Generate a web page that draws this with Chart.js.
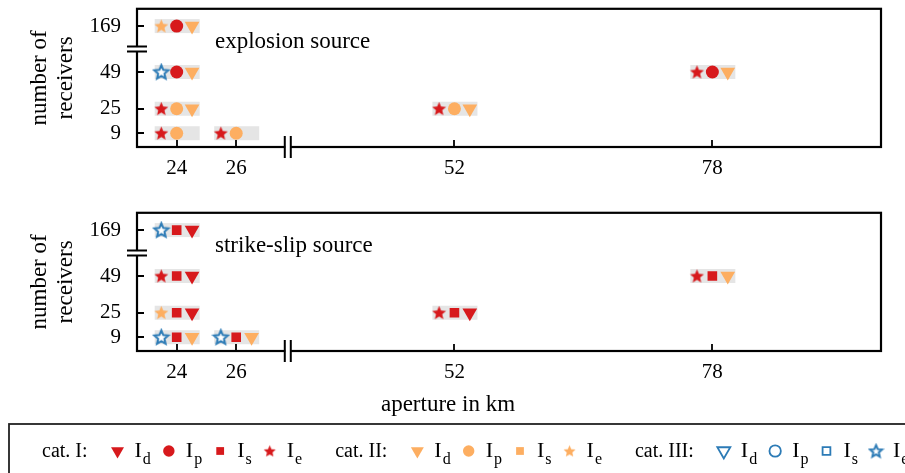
<!DOCTYPE html>
<html>
<head>
<meta charset="utf-8">
<script src="https://cdn.jsdelivr.net/npm/chart.js@4/dist/chart.umd.min.js"></script>
<style>
  body { margin: 0; background: #fff; width: 905px; height: 473px; overflow: hidden; position: relative; }
  canvas { position: absolute; left: 0; }
  #topChart { top: 0; }
  #bottomChart { top: 204px; }
</style>
</head>
<body>
<canvas id="topChart" width="905" height="200" style="width:905px;height:200px"></canvas>
<canvas id="bottomChart" width="905" height="269" style="width:905px;height:269px"></canvas>
<script>
// data
const apertures = [24, 24, 24, 24, 26, 52, 78];
const receivers = [169, 49, 25, 9, 9, 25, 49];
const xTicks = [24, 26, 52, 78];
const yTicks = [9, 25, 49, 169];

// category of each marker (I, II, III), null = no marker
const explosionIe = ['II', 'III', 'I', 'I', 'I', 'I', 'I'];
const explosionIp = ['I', 'I', 'II', 'II', 'II', 'II', 'I'];
const explosionId = ['II', 'II', 'II', null, null, 'II', 'II'];
const strikeIe = ['III', 'I', 'II', 'III', 'III', 'I', 'I'];
const strikeIs = ['I', 'I', 'I', 'I', 'I', 'I', 'I'];
const strikeId = ['I', 'I', 'I', 'II', 'II', 'I', 'II'];

const legendCats = ['I', 'II', 'III'];
const legendKeys = ['d', 'p', 's', 'e'];

const colors = { I: '#d7191c', II: '#fdae61', III: '#2c7bb6' };
const FONT = '"Liberation Serif", "Times New Roman", serif';

// broken axes: 24..26 is stretched, 169 sits above the break
function xPos(a) { return a <= 26 ? 24 + (a - 24) * 3 : a; }
function yPos(n) { return n > 49 ? 79 : n; }
const X_BREAK = 35.2;
const Y_BREAK = 64;
const SHIFT = 1.55; // marker spacing inside a group, in x units

function makeStar(color, open, outer, inner) {
  const c = document.createElement('canvas');
  const s = Math.ceil(outer * 2 + 4);
  c.width = s; c.height = s;
  const g = c.getContext('2d');
  g.beginPath();
  for (let i = 0; i < 10; i++) {
    const r = i % 2 ? inner : outer;
    const a = -Math.PI / 2 + i * Math.PI / 5;
    g.lineTo(s / 2 + r * Math.cos(a), s / 2 + r * Math.sin(a) + 0.5);
  }
  g.closePath();
  if (open) {
    g.fillStyle = '#fff'; g.fill();
    g.lineWidth = 2; g.strokeStyle = color; g.stroke();
  } else {
    g.fillStyle = color; g.fill();
  }
  return c;
}
const stars = {}, smallStars = {};
legendCats.forEach(c => {
  stars[c] = makeStar(colors[c], c === 'III', 7.3, 3.3);
  smallStars[c] = makeStar(colors[c], c === 'III', 6.3, 2.9);
});

function markerDataset(cats, style, shift, radius, rotation) {
  const pts = [], bg = [], bc = [], bw = [], ps = [];
  cats.forEach((cat, i) => {
    if (!cat) return;
    pts.push({ x: xPos(apertures[i]) + shift, y: yPos(receivers[i]) });
    bg.push(cat === 'III' ? '#fff' : colors[cat]);
    bc.push(colors[cat]);
    bw.push(cat === 'III' ? 1.8 : 0);
    ps.push(style === 'star' ? stars[cat] : style);
  });
  return {
    data: pts,
    pointStyle: ps,
    pointBackgroundColor: bg,
    pointBorderColor: bc,
    pointBorderWidth: bw,
    pointRadius: radius,
    pointRotation: rotation,
    showLine: false
  };
}

// grey boxes behind each group, then frame, inward ticks, breaks and texts
const framePlugin = {
  id: 'frame',
  beforeDatasetsDraw(chart) {
    const ctx = chart.ctx, sx = chart.scales.x, sy = chart.scales.y;
    ctx.save();
    ctx.fillStyle = '#e5e5e5';
    apertures.forEach((a, i) => {
      const px = sx.getPixelForValue(xPos(a));
      const py = sy.getPixelForValue(yPos(receivers[i]));
      ctx.fillRect(px - 22, py - 7, 45, 14);
    });
    ctx.restore();
  },
  afterDraw(chart, args, opts) {
    const ctx = chart.ctx, area = chart.chartArea;
    const sx = chart.scales.x, sy = chart.scales.y;
    ctx.save();
    ctx.strokeStyle = '#000';
    ctx.lineWidth = 2.2;
    ctx.strokeRect(area.left, area.top, area.right - area.left, area.bottom - area.top);

    ctx.lineWidth = 1.8;
    ctx.beginPath();
    xTicks.forEach(v => {
      const px = Math.round(sx.getPixelForValue(xPos(v)));
      ctx.moveTo(px, area.bottom); ctx.lineTo(px, area.bottom - 7);
    });
    yTicks.forEach(v => {
      const py = Math.round(sy.getPixelForValue(yPos(v)));
      ctx.moveTo(area.left, py); ctx.lineTo(area.left + 7, py);
    });
    ctx.stroke();

    // x break
    const bx = sx.getPixelForValue(X_BREAK);
    ctx.fillStyle = '#fff';
    ctx.fillRect(bx - 2.5, area.bottom - 2, 5, 4);
    ctx.lineWidth = 2;
    ctx.beginPath();
    ctx.moveTo(bx - 3, area.bottom - 11); ctx.lineTo(bx - 3, area.bottom + 11);
    ctx.moveTo(bx + 3, area.bottom - 11); ctx.lineTo(bx + 3, area.bottom + 11);
    ctx.stroke();
    // y break
    const by = sy.getPixelForValue(Y_BREAK);
    ctx.fillRect(area.left - 2, by - 2, 4, 4);
    ctx.beginPath();
    ctx.moveTo(area.left - 10, by - 2.5); ctx.lineTo(area.left + 10, by - 2.5);
    ctx.moveTo(area.left - 10, by + 2.5); ctx.lineTo(area.left + 10, by + 2.5);
    ctx.stroke();

    ctx.fillStyle = '#000';
    ctx.font = '23px ' + FONT;
    ctx.textBaseline = 'middle';
    ctx.textAlign = 'left';
    ctx.fillText(opts.label, 215, area.top + 33);

    // y title
    const cy = (area.top + area.bottom) / 2;
    ctx.save();
    ctx.translate(40, cy);
    ctx.rotate(-Math.PI / 2);
    ctx.textAlign = 'center';
    ctx.fillText('number of', 0, 0);
    ctx.fillText('receivers', 0, 26);
    ctx.restore();

    if (opts.xTitle) {
      ctx.textAlign = 'center';
      ctx.fillText(opts.xTitle, 448, area.bottom + 54);
    }
    if (opts.legend) drawLegend(ctx, area.bottom);
    ctx.restore();
  }
};

function drawLegend(ctx, axisY) {
  const top = axisY + 73;
  const cy = top + 26;
  ctx.save();
  ctx.strokeStyle = '#222';
  ctx.lineWidth = 1.8;
  ctx.strokeRect(9, top, 905, 80);
  ctx.fillStyle = '#000';
  ctx.textBaseline = 'alphabetic';
  ctx.textAlign = 'left';
  const base = cy + 7;
  let x = 42;
  legendCats.forEach(cat => {
    ctx.font = '20px ' + FONT;
    const t = 'cat. ' + cat + ':';
    ctx.fillText(t, x, base);
    x += ctx.measureText(t).width + 30;
    legendKeys.forEach(key => {
      const open = cat === 'III';
      ctx.fillStyle = open ? '#fff' : colors[cat];
      ctx.strokeStyle = colors[cat];
      const o = { radius: 6, rotation: 0, borderWidth: open ? 1.7 : 0, pointStyle: 'circle' };
      if (key === 'd') { o.pointStyle = 'triangle'; o.radius = 7.5; o.rotation = 180; }
      if (key === 's') { o.pointStyle = 'rect'; o.radius = 5.5; }
      if (key === 'e') { o.pointStyle = smallStars[cat]; }
      if (key === 'p') { o.radius = 5.7; }
      Chart.helpers.drawPoint(ctx, o, x, cy + 1);
      x += 17;
      ctx.fillStyle = '#000';
      ctx.font = '22px ' + FONT;
      ctx.fillText('I', x, base);
      x += ctx.measureText('I').width + 1;
      ctx.font = '16px ' + FONT;
      ctx.fillText(key, x, base + 7);
      x += ctx.measureText(key).width + 18;
    });
    x += 15;
  });
  ctx.restore();
}

function makeChart(id, label, ie, mid, midStyle, midRadius, id_, extra) {
  const canvas = document.getElementById(id);
  return new Chart(canvas, {
    type: 'scatter',
    data: {
      datasets: [
        markerDataset(ie, 'star', -SHIFT, 7, 0),
        markerDataset(mid, midStyle, 0, midRadius, 0),
        markerDataset(id_, 'triangle', SHIFT, 8.5, 180)
      ]
    },
    plugins: [framePlugin],
    options: {
      responsive: false,
      animation: false,
      devicePixelRatio: 1,
      layout: { padding: { left: 0, right: 24, top: 7, bottom: 0 } },
      plugins: {
        legend: { display: false },
        tooltip: { enabled: false },
        frame: Object.assign({ label: label }, extra)
      },
      scales: {
        x: {
          type: 'linear',
          min: 20, max: 95,
          grid: { display: false, drawTicks: false },
          border: { display: false },
          afterBuildTicks: s => { s.ticks = xTicks.map(v => ({ value: xPos(v) })); },
          afterFit: s => {
            s.height = canvas.height - 147;
            s.paddingLeft = 0; s.paddingRight = 0;
          },
          ticks: {
            padding: 9,
            color: '#000',
            font: { family: FONT, size: 21 },
            callback: (v, i) => xTicks[i]
          }
        },
        y: {
          type: 'linear',
          min: 0, max: 90.3,
          grid: { display: false, drawTicks: false },
          border: { display: false },
          afterBuildTicks: s => { s.ticks = yTicks.map(v => ({ value: yPos(v) })); },
          afterFit: s => {
            s.width = 137;
            s.paddingTop = 0; s.paddingBottom = 0;
          },
          ticks: {
            padding: 16,
            color: '#000',
            font: { family: FONT, size: 21 },
            callback: (v, i) => yTicks[i]
          }
        }
      }
    }
  });
}

makeChart('topChart', 'explosion source', explosionIe, explosionIp, 'circle', 6.5, explosionId, {});
makeChart('bottomChart', 'strike-slip source', strikeIe, strikeIs, 'rect', 6.8, strikeId,
  { xTitle: 'aperture in km', legend: true });
</script>
</body>
</html>
